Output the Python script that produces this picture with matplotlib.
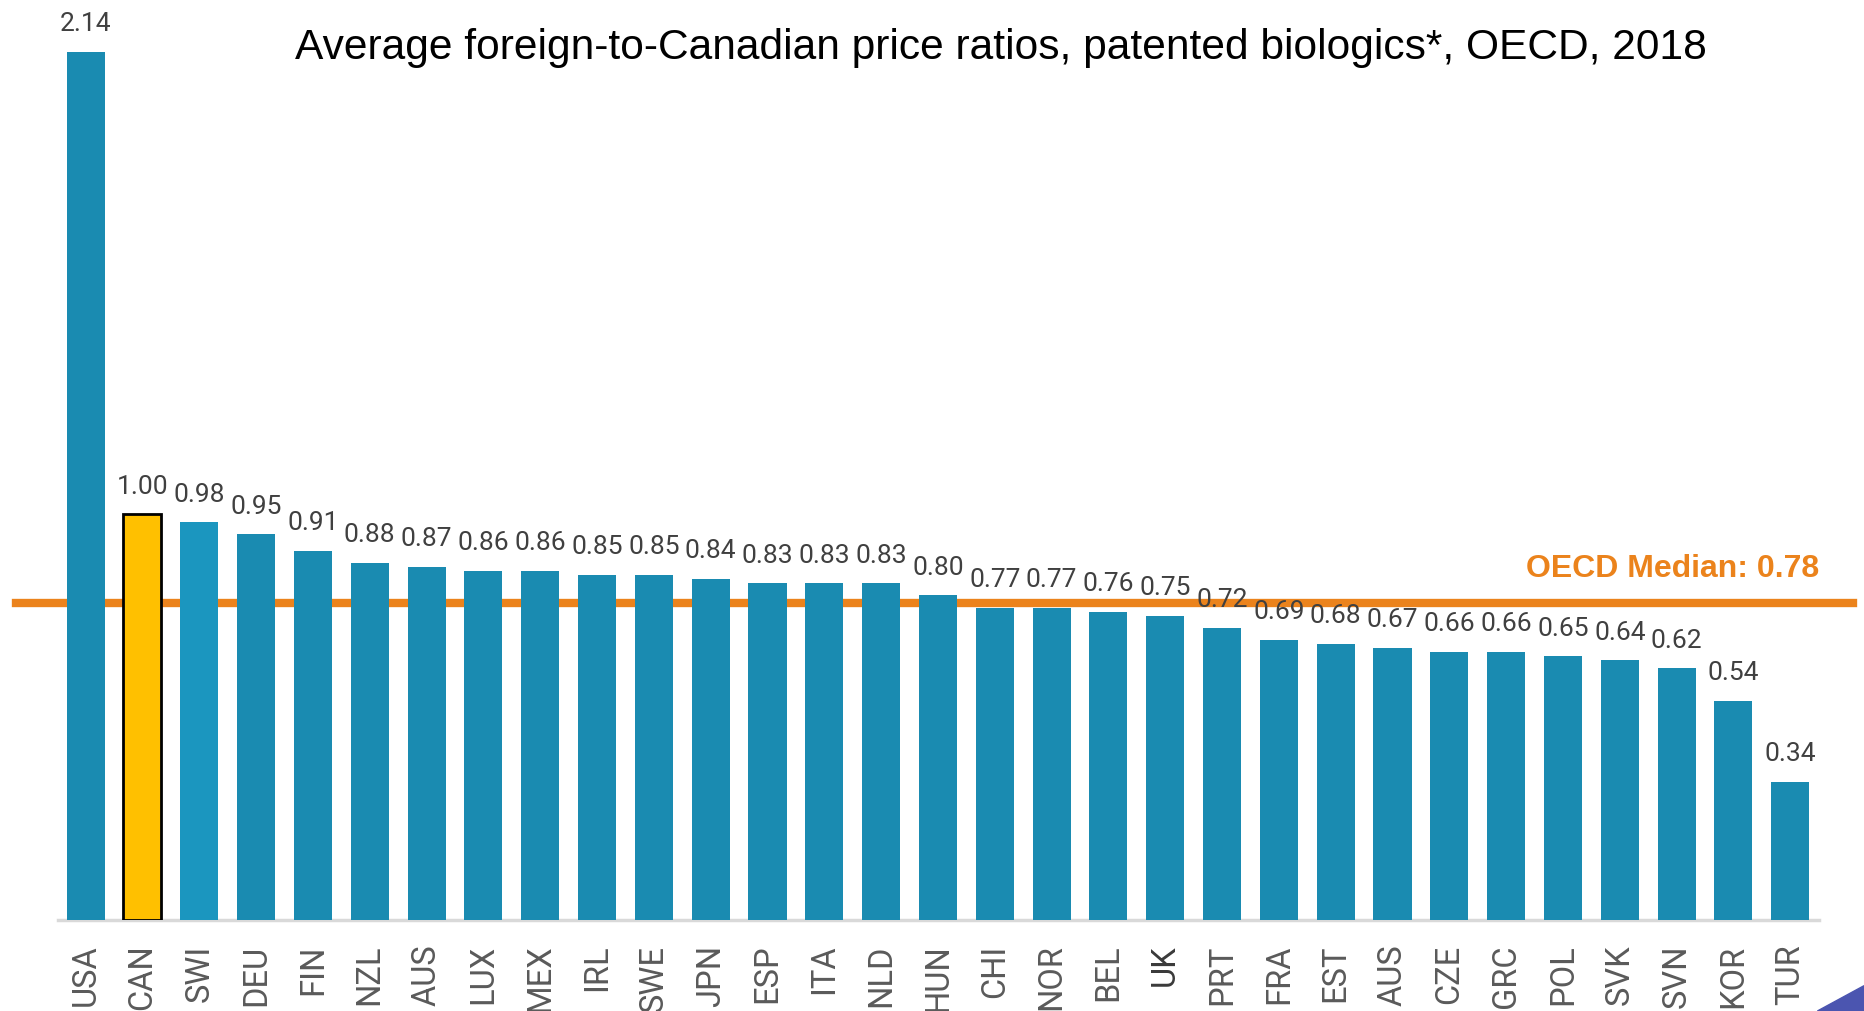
import numpy as np
import matplotlib
matplotlib.use("Agg")
import matplotlib.pyplot as plt
from matplotlib.patches import Polygon

countries = ["USA", "CAN", "SWI", "DEU", "FIN", "NZL", "AUS", "LUX", "MEX", "IRL",
             "SWE", "JPN", "ESP", "ITA", "NLD", "HUN", "CHI", "NOR", "BEL", "UK",
             "PRT", "FRA", "EST", "AUS", "CZE", "GRC", "POL", "SVK", "SVN", "KOR", "TUR"]
ratios = [2.14, 1.00, 0.98, 0.95, 0.91, 0.88, 0.87, 0.86, 0.86, 0.85,
          0.85, 0.84, 0.83, 0.83, 0.83, 0.80, 0.77, 0.77, 0.76, 0.75,
          0.72, 0.69, 0.68, 0.67, 0.66, 0.66, 0.65, 0.64, 0.62, 0.54, 0.34]
median = 0.78

cond = ['Roboto', 'DejaVu Sans']

fig = plt.figure(figsize=(18.64, 10.12), dpi=100)
ax = fig.add_axes([0.031, 0.090, 0.945, 0.882])

x = np.arange(len(countries))
colors = ['#1A8BB1'] * len(countries)
colors[1] = '#FFC000'
colors[2] = '#1B96BF'
edges = ['none'] * len(countries)
edges[1] = 'black'
bars = ax.bar(x, ratios, width=0.67, color=colors, edgecolor=edges, linewidth=2, zorder=3)

for xi, v in zip(x, ratios):
    ax.annotate("%.2f" % v, (xi, v), xytext=(0, 12), textcoords='offset points',
                ha='center', va='bottom', fontsize=19, color='#404040',
                family=cond, zorder=5)

# median line, sticks out past the axes a bit
ax.axhline(median, xmin=-0.024, xmax=1.019, color='#EB831C', lw=6, zorder=2, clip_on=False)
ax.text(1.0, median + 0.087, "OECD Median: %.2f" % median, transform=ax.get_yaxis_transform(),
        ha='right', va='center', fontsize=23, fontweight='bold', color='#EB831C',
        family='Liberation Sans')

ax.set_xlim(-0.49, 30.51)
ax.set_ylim(0, 2.2)
ax.set_xticks(x)
ax.set_xticklabels(countries, rotation=90, fontsize=23.5, color='#5A5A5A', family=cond)
ax.get_xticklabels()[19].set_color('#3A3A3A')
ax.tick_params(axis='x', length=0, pad=17)
ax.set_yticks([])
for s in ['top', 'right', 'left']:
    ax.spines[s].set_visible(False)
ax.spines['bottom'].set_color('#D9D9D9')
ax.spines['bottom'].set_linewidth(2.5)

fig.text(0.537, 0.953, "Average foreign-to-Canadian price ratios, patented biologics*, OECD, 2018",
         ha='center', va='center', fontsize=30.6, family='Liberation Sans', color='black')

# little slide decoration in the corner
fig.patches.append(Polygon([[0.975, 0.0], [1.0, 0.025], [1.0, 0.0]], closed=True,
                           transform=fig.transFigure, color='#4B55B0', zorder=0))

fig.savefig("out.png", dpi=100)
